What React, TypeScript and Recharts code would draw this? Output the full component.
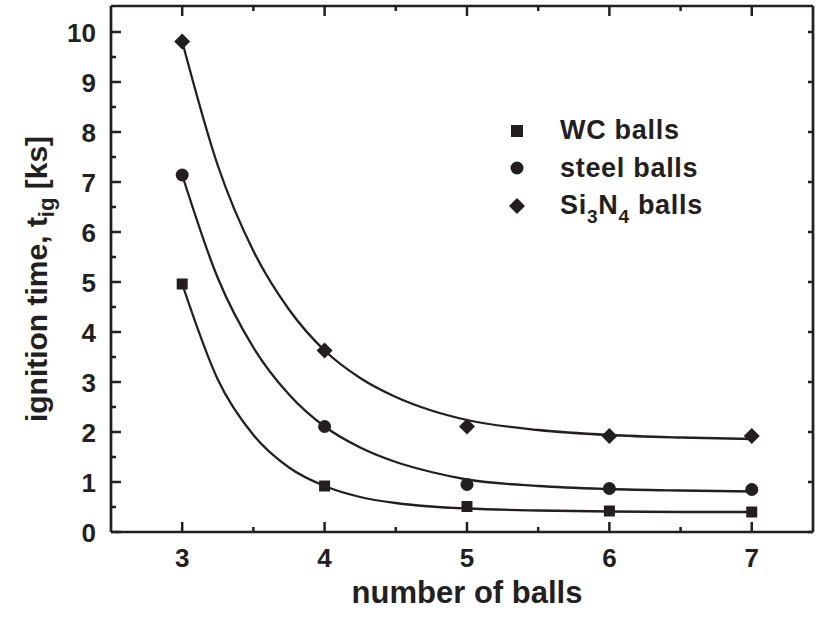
import {
  ComposedChart,
  Line,
  Scatter,
  XAxis,
  YAxis,
  Legend,
} from 'recharts';

// measured points (number of balls -> ignition time, ks)
const balls = [3, 4, 5, 6, 7];
const wcPoints = [4.96, 0.92, 0.51, 0.42, 0.4];
const steelPoints = [7.14, 2.11, 0.95, 0.87, 0.85];
const siPoints = [9.81, 3.63, 2.11, 1.92, 1.92];

// fitted curves
const curveX = [3, 3.25, 3.5, 3.75, 4, 4.25, 4.5, 4.75, 5, 5.5, 6, 6.5, 7];
const wcCurve = [4.96, 3.05, 1.94, 1.29, 0.92, 0.7, 0.58, 0.51, 0.47, 0.43, 0.41, 0.4, 0.4];
const steelCurve = [7.14, 5.08, 3.69, 2.75, 2.11, 1.69, 1.4, 1.2, 1.05, 0.92, 0.86, 0.83, 0.81];
const siCurve = [9.81, 7.33, 5.62, 4.45, 3.63, 3.08, 2.7, 2.43, 2.24, 2.04, 1.94, 1.89, 1.86];

const xTicks = [3, 3.5, 4, 4.5, 5, 5.5, 6, 6.5, 7];
const yTicks = [0, 0.5, 1, 1.5, 2, 2.5, 3, 3.5, 4, 4.5, 5, 5.5, 6, 6.5, 7, 7.5, 8, 8.5, 9, 9.5, 10];
const yTicksRight = [0, 1, 2, 3, 4, 5, 6, 7, 8, 9, 10];

const INK = '#231f20';
const FONT = '"Liberation Sans", Arial, Helvetica, sans-serif';

const zip = (xs: number[], ys: number[]) => xs.map((x, i) => ({ x, y: ys[i] }));

const BottomTick = (props: any) => {
  const { x, y, payload } = props;
  const major = Number.isInteger(payload.value);
  return (
    <g>
      <line x1={x} x2={x} y1={y} y2={y - (major ? 10 : 5)} stroke={INK} strokeWidth={2.5} />
      {major && (
        <text x={x} y={y + 35} textAnchor="middle" fill={INK} fontSize={26} fontWeight="bold" fontFamily={FONT}>
          {payload.value}
        </text>
      )}
    </g>
  );
};

const TopTick = (props: any) => {
  const { x, y, payload } = props;
  const major = Number.isInteger(payload.value);
  return <line x1={x} x2={x} y1={y} y2={y + (major ? 10 : 5)} stroke={INK} strokeWidth={2.5} />;
};

const LeftTick = (props: any) => {
  const { x, y, payload } = props;
  const major = Number.isInteger(payload.value);
  return (
    <g>
      <line x1={x} x2={x + (major ? 10 : 5)} y1={y} y2={y} stroke={INK} strokeWidth={2.5} />
      {major && (
        <text x={x - 15} y={y + 9.5} textAnchor="end" fill={INK} fontSize={26} fontWeight="bold" fontFamily={FONT}>
          {payload.value}
        </text>
      )}
    </g>
  );
};

const RightTick = (props: any) => {
  const { x, y } = props;
  return <line x1={x} x2={x - 5} y1={y} y2={y} stroke={INK} strokeWidth={2.5} />;
};

const Square = (props: any) => {
  const { cx, cy } = props;
  return <rect x={cx - 5.5} y={cy - 5.5} width={11} height={11} fill={INK} />;
};

const Circle = (props: any) => {
  const { cx, cy } = props;
  return <circle cx={cx} cy={cy} r={6.5} fill={INK} />;
};

const Diamond = (props: any) => {
  const { cx, cy } = props;
  return <path d={`M${cx},${cy - 8}L${cx + 8},${cy}L${cx},${cy + 8}L${cx - 8},${cy}Z`} fill={INK} />;
};

const XTitle = () => (
  <text x={467} y={603} textAnchor="middle" fill={INK} fontSize={31} fontWeight="bold" fontFamily={FONT}>
    number of balls
  </text>
);

const YTitle = () => (
  <text
    x={47}
    y={279}
    transform="rotate(-90, 47, 279)"
    textAnchor="middle"
    fill={INK}
    fontSize={30}
    fontWeight="bold"
    fontFamily={FONT}
  >
    ignition time, t
    <tspan fontSize={22} dy={7}>ig</tspan>
    <tspan dy={-7}> [ks]</tspan>
  </text>
);

const legendRows = [
  { shape: 'square', label: <>WC balls</> },
  { shape: 'circle', label: <>steel balls</> },
  {
    shape: 'diamond',
    label: (
      <>
        Si<span style={{ fontSize: 19, position: 'relative', top: 9 }}>3</span>N
        <span style={{ fontSize: 19, position: 'relative', top: 9 }}>4</span> balls
      </>
    ),
  },
];

const LegendBox = () => (
  <div style={{ fontFamily: FONT, fontWeight: 'bold', fontSize: 27, letterSpacing: 0.7, color: INK }}>
    {legendRows.map((r) => (
      <div key={r.shape} style={{ height: 37.5, display: 'flex', alignItems: 'center' }}>
        <svg width={24} height={24} style={{ marginRight: 31 }}>
          {r.shape === 'square' && <rect x={6} y={6} width={12} height={12} fill={INK} />}
          {r.shape === 'circle' && <circle cx={12} cy={12} r={6.5} fill={INK} />}
          {r.shape === 'diamond' && <path d="M12,4L20,12L12,20L4,12Z" fill={INK} />}
        </svg>
        <span style={{ whiteSpace: 'nowrap' }}>{r.label}</span>
      </div>
    ))}
  </div>
);

export default function App() {
  return (
    <div style={{ position: 'absolute', left: 0, top: 0, background: '#fff' }}>
      <ComposedChart width={818} height={622} margin={{ top: 0, right: 0, bottom: 0, left: 0 }}>
        <XAxis
          type="number"
          dataKey="x"
          domain={[2.5, 7.43]}
          ticks={xTicks}
          allowDataOverflow
          height={90}
          tickSize={0}
          tickMargin={0}
          tickLine={false}
          tick={<BottomTick />}
          axisLine={{ stroke: INK, strokeWidth: 2.7 }}
          interval={0}
          label={{ content: <XTitle /> }}
        />
        <XAxis
          xAxisId="top"
          orientation="top"
          type="number"
          dataKey="x"
          domain={[2.5, 7.43]}
          ticks={xTicks}
          allowDataOverflow
          height={6}
          tickSize={0}
          tickMargin={0}
          tickLine={false}
          tick={<TopTick />}
          axisLine={{ stroke: INK, strokeWidth: 2.7 }}
          interval={0}
        />
        <YAxis
          type="number"
          domain={[0, 10.52]}
          ticks={yTicks}
          allowDataOverflow
          width={111}
          tickSize={0}
          tickMargin={0}
          tickLine={false}
          tick={<LeftTick />}
          axisLine={{ stroke: INK, strokeWidth: 2.7 }}
          interval={0}
          label={{ content: <YTitle /> }}
        />
        <YAxis
          yAxisId="right"
          orientation="right"
          type="number"
          domain={[0, 10.52]}
          ticks={yTicksRight}
          allowDataOverflow
          width={5}
          tickSize={0}
          tickMargin={0}
          tickLine={false}
          tick={<RightTick />}
          axisLine={{ stroke: INK, strokeWidth: 2.7 }}
          interval={0}
        />
        <Legend
          layout="horizontal"
          align="center"
          verticalAlign="middle"
          wrapperStyle={{ position: 'absolute', left: 505, top: 112, width: 280 }}
          content={() => <LegendBox />}
        />
        <Line data={zip(curveX, wcCurve)} dataKey="y" type="monotone" stroke={INK} strokeWidth={2.3} dot={false} isAnimationActive={false} />
        <Line data={zip(curveX, steelCurve)} dataKey="y" type="monotone" stroke={INK} strokeWidth={2.3} dot={false} isAnimationActive={false} />
        <Line data={zip(curveX, siCurve)} dataKey="y" type="monotone" stroke={INK} strokeWidth={2.3} dot={false} isAnimationActive={false} />
        <Scatter data={zip(balls, wcPoints)} dataKey="y" shape={<Square />} isAnimationActive={false} />
        <Scatter data={zip(balls, steelPoints)} dataKey="y" shape={<Circle />} isAnimationActive={false} />
        <Scatter data={zip(balls, siPoints)} dataKey="y" shape={<Diamond />} isAnimationActive={false} />
      </ComposedChart>
    </div>
  );
}
